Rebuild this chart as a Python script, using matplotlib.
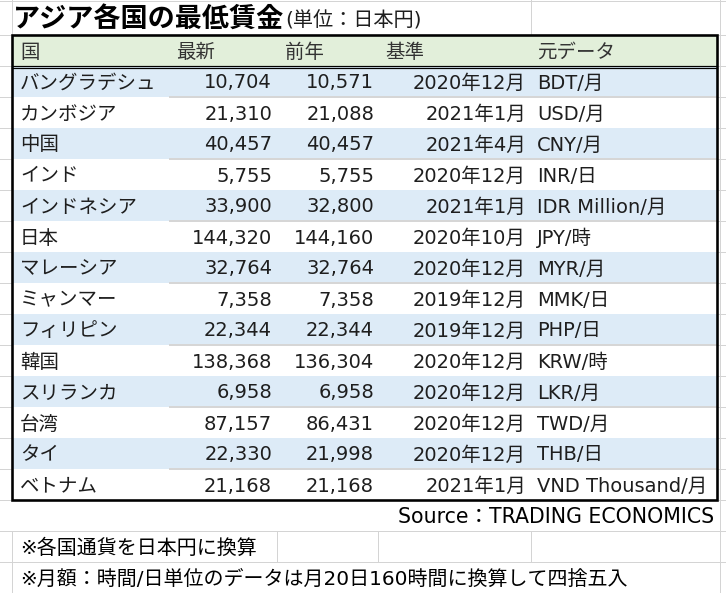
import matplotlib
matplotlib.use("Agg")
import matplotlib.pyplot as plt
from matplotlib.patches import Rectangle

plt.rcParams['font.family'] = ['DejaVu Sans', 'Noto Sans CJK JP']

title_main = "アジア各国の最低賃金"
title_unit = "(単位：日本円)"
headers = ["国", "最新", "前年", "基準", "元データ"]
countries = ["バングラデシュ", "カンボジア", "中国", "インド", "インドネシア", "日本",
             "マレーシア", "ミャンマー", "フィリピン", "韓国", "スリランカ", "台湾",
             "タイ", "ベトナム"]
latest = [10704, 21310, 40457, 5755, 33900, 144320, 32764, 7358, 22344, 138368,
          6958, 87157, 22330, 21168]
previous = [10571, 21088, 40457, 5755, 32800, 144160, 32764, 7358, 22344, 136304,
            6958, 86431, 21998, 21168]
base_month = ["2020年12月", "2021年1月", "2021年4月", "2020年12月", "2021年1月",
              "2020年10月", "2020年12月", "2019年12月", "2019年12月", "2020年12月",
              "2020年12月", "2020年12月", "2020年12月", "2021年1月"]
source_unit = ["BDT/月", "USD/月", "CNY/月", "INR/日", "IDR Million/月", "JPY/時",
               "MYR/月", "MMK/日", "PHP/日", "KRW/時", "LKR/月", "TWD/月", "THB/日",
               "VND Thousand/月"]
source_note = "Source：TRADING ECONOMICS"
notes = ["※各国通貨を日本円に換算",
         "※月額：時間/日単位のデータは月20日160時間に換算して四捨五入"]

W, H = 726, 593
fig = plt.figure(figsize=(W / 100, H / 100), dpi=100)
ax = fig.add_axes([0, 0, 1, 1])
ax.set_xlim(0, W)
ax.set_ylim(H, 0)
ax.axis('off')

PX = 0.72  # points per pixel
GRID = '#D4D4D4'
TXT = '#1E1E1E'
BLUE = '#DDEBF7'
GREEN = '#E2EFDA'

# layout (pixels)
col_edges = [12, 168, 277, 378, 531, 717]
title_top, table_top, row_h = 1, 35, 31
n = len(countries)
header_bot = table_top + row_h
table_bot = header_bot + n * row_h
row_bounds = [title_top, table_top] + [table_top + row_h * (i + 1) for i in range(n + 4)]
DY = 1.5  # text baseline nudge

# Excel-like gridlines
for y in row_bounds:
    ax.plot([0, W], [y, y], color=GRID, lw=1 * PX, zorder=1)
for x in [12, 531, 720]:
    ax.plot([x, x], [0, table_top], color=GRID, lw=1 * PX, zorder=1)
ax.plot([720, 720], [table_top, table_bot + row_h], color=GRID, lw=1 * PX, zorder=1)
n1_top = table_bot + row_h
n2_top = n1_top + row_h
for x in [12, 277, 378, 531, 720]:
    ax.plot([x, x], [n1_top, n2_top], color=GRID, lw=1 * PX, zorder=1)
for x in [12, 720]:
    ax.plot([x, x], [n2_top, n2_top + row_h], color=GRID, lw=1 * PX, zorder=1)

ax.add_patch(Rectangle((col_edges[0], table_top), col_edges[-1] - col_edges[0],
                       table_bot - table_top, facecolor='white', edgecolor='none', zorder=2))
ax.add_patch(Rectangle((col_edges[0], table_top), col_edges[-1] - col_edges[0], row_h,
                       facecolor=GREEN, edgecolor='none', zorder=3))
for i in range(n):
    y0 = header_bot + i * row_h
    if i % 2 == 0:
        ax.add_patch(Rectangle((col_edges[0], y0), col_edges[-1] - col_edges[0], row_h,
                               facecolor=BLUE, edgecolor='none', zorder=3))
        ax.plot([col_edges[1] + 1, col_edges[-1]], [y0 + row_h, y0 + row_h],
                color='#D6D6D6', lw=2 * PX, zorder=4, solid_capstyle='butt')

ax.plot([col_edges[0], col_edges[-1]], [header_bot - 0.5, header_bot - 0.5], color='black', lw=1.2 * PX, zorder=5)
ax.plot([col_edges[0], col_edges[-1]], [header_bot + 2, header_bot + 2], color='black', lw=1.2 * PX, zorder=5)
ax.add_patch(Rectangle((col_edges[0], table_top), col_edges[-1] - col_edges[0],
                       table_bot - table_top, facecolor='none', edgecolor='black',
                       lw=2.6 * PX, zorder=6))

FS = 14
ax.text(13, 19, title_main, fontsize=19.5, fontweight='bold', color='black',
        family=['Noto Sans CJK JP'], va='center', ha='left', zorder=7)
ax.text(285, 21, title_unit, fontsize=14.5, color=TXT, va='center', ha='left', zorder=7)

hx = [20, 176, 285, 385, 537]
hy = table_top + row_h / 2 + DY
for x, h in zip(hx, headers):
    ax.text(x, hy, h, fontsize=FS, color='#333333', va='center', ha='left', zorder=7)

for i in range(n):
    yc = header_bot + i * row_h + row_h / 2 + DY
    ax.text(20, yc, countries[i], fontsize=FS, color=TXT, va='center', ha='left', zorder=7)
    ax.text(272, yc, f"{latest[i]:,}", fontsize=FS, color=TXT, va='center', ha='right', zorder=7)
    ax.text(374, yc, f"{previous[i]:,}", fontsize=FS, color=TXT, va='center', ha='right', zorder=7)
    ax.text(526, yc, base_month[i], fontsize=FS, color=TXT, va='center', ha='right', zorder=7)
    ax.text(537, yc, source_unit[i], fontsize=FS, color=TXT, va='center', ha='left', zorder=7)

ax.text(714, table_bot + row_h / 2 + DY, source_note, fontsize=14.8, color='black',
        va='center', ha='right', zorder=7)
ax.text(20, n1_top + row_h / 2 + DY, notes[0], fontsize=14.4, color='black', va='center', ha='left', zorder=7)
ax.text(20, n2_top + row_h / 2 + DY, notes[1], fontsize=14.4, color='black', va='center', ha='left', zorder=7)

fig.savefig("out.png", dpi=100, facecolor='white')
